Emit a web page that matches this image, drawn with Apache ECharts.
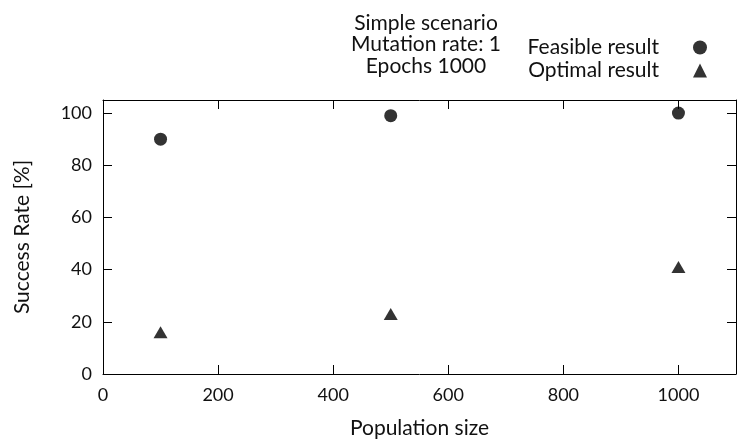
<!DOCTYPE html>
<html>
<head>
<meta charset="utf-8">
<script src="https://cdn.jsdelivr.net/npm/echarts@6/dist/echarts.min.js"></script>
<style>
  html, body { margin: 0; padding: 0; background: #fff; }
  #chart { width: 737px; height: 444px; }
</style>
</head>
<body>
<div id="chart"></div>
<script>
// data
const popSizes = [100, 500, 1000];
const feasible = [90, 99, 100];
const optimal = [16, 23, 41];
const titleLines = ["Simple scenario", "Mutation rate: 1", "Epochs 1000"];

const FONT = "Lato";
const ink = "#000";
const textInk = "#111";

const chart = echarts.init(document.getElementById("chart"));

// mirrored frame axes (top / right) with inward ticks, like gnuplot
function frameAxis(extra) {
  return Object.assign({
    type: "value",
    axisLine: { show: true, onZero: false, lineStyle: { color: ink, width: 1 } },
    axisTick: { show: true, inside: true, length: 9, lineStyle: { color: ink } },
    axisLabel: { show: false },
    splitLine: { show: false }
  }, extra);
}

function plainNum(v) {
  return String(v);
}

chart.setOption({
  animation: false,
  textStyle: { fontFamily: FONT },
  title: {
    text: titleLines.join("\n"),
    left: 421,
    top: 7,
    textAlign: "center",
    textStyle: { fontFamily: FONT, fontSize: 21, fontWeight: "normal", color: textInk, lineHeight: 21.5 }
  },
  legend: {
    orient: "vertical",
    right: 25,
    top: 32,
    align: "right",
    itemGap: 2,
    itemWidth: 14,
    itemHeight: 14,
    textStyle: { fontFamily: FONT, fontSize: 21, color: textInk, padding: [0, 29, 0, 0] },
    data: [
      { name: "Feasible result", icon: "circle" },
      { name: "Optimal result", icon: "triangle" }
    ]
  },
  grid: { left: 103, right: 1, top: 100, bottom: 70 },
  xAxis: [
    frameAxis({
      position: "bottom",
      min: 0, max: 1100, interval: 200,
      name: "Population size",
      nameLocation: "middle",
      nameGap: 44,
      nameTextStyle: { fontFamily: FONT, fontSize: 21, color: textInk },
      axisLabel: {
        show: true, margin: 12, fontFamily: FONT, fontSize: 18, color: textInk,
        showMaxLabel: false, formatter: plainNum
      }
    }),
    frameAxis({ position: "top", min: 0, max: 1100, interval: 200 })
  ],
  yAxis: [
    frameAxis({
      position: "left",
      min: 0, max: 105, interval: 20,
      name: "Success Rate [%]",
      nameLocation: "middle",
      nameGap: 70,
      nameTextStyle: { fontFamily: FONT, fontSize: 21, color: textInk },
      axisLabel: {
        show: true, margin: 11, fontFamily: FONT, fontSize: 18, color: textInk,
        showMaxLabel: false, formatter: plainNum
      }
    }),
    frameAxis({ position: "right", min: 0, max: 105, interval: 20 })
  ],
  series: [
    {
      name: "Feasible result",
      type: "scatter",
      symbol: "circle",
      symbolSize: 13,
      itemStyle: { color: ink },
      data: popSizes.map((x, i) => [x, feasible[i]])
    },
    {
      name: "Optimal result",
      type: "scatter",
      symbol: "triangle",
      symbolSize: [14, 12],
      itemStyle: { color: ink },
      data: popSizes.map((x, i) => [x, optimal[i]])
    }
  ]
});
</script>
</body>
</html>
